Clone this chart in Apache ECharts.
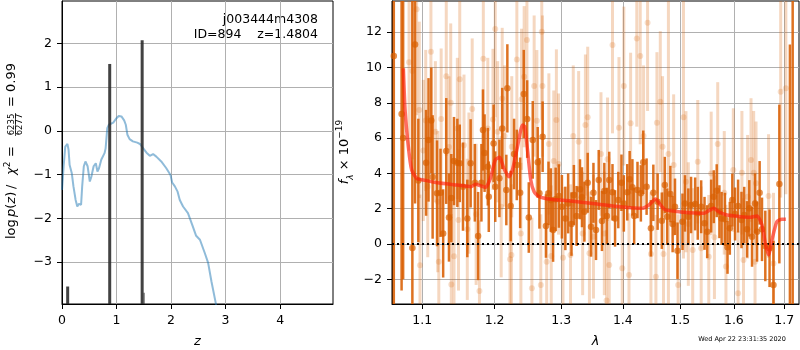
<!DOCTYPE html>
<html>
<head>
<meta charset="utf-8">
<script src="https://cdn.jsdelivr.net/npm/echarts@6/dist/echarts.min.js"></script>
<style>
html, body { margin: 0; padding: 0; background: #fff; }
#main { width: 800px; height: 350px; }
</style>
</head>
<body>
<div id="main"></div>
<script>
// --- left panel: log p(z)
var zCurve = [0, 0.03, 0.06, 0.10, 0.12, 0.14, 0.16, 0.18, 0.21, 0.25, 0.28, 0.31, 0.35, 0.37, 0.40, 0.43, 0.47, 0.51, 0.54, 0.58,
  0.62, 0.65, 0.68, 0.72, 0.78, 0.80, 0.83, 0.86, 0.94, 1.00, 1.04, 1.09, 1.14, 1.17, 1.20, 1.24, 1.30, 1.38, 1.43, 1.49,
  1.55, 1.61, 1.67, 1.73, 1.82, 1.91, 1.99, 2.02, 2.07, 2.12, 2.16, 2.22, 2.31, 2.40, 2.46, 2.53, 2.62, 2.68, 2.74, 2.82, 2.84];
var logpCurve = [-1.35, -0.81, -0.36, -0.30, -0.43, -0.78, -0.81, -0.97, -1.27, -1.58, -1.73, -1.67, -1.69, -1.27, -0.81, -0.70, -0.81, -1.16, -1.04, -0.81,
  -0.74, -0.93, -0.85, -0.66, -0.51, -0.40, 0.06, 0.14, 0.19, 0.29, 0.34, 0.33, 0.24, 0.14, -0.09, -0.19, -0.24, -0.27, -0.30, -0.40,
  -0.50, -0.57, -0.53, -0.59, -0.70, -0.85, -1.01, -1.18, -1.27, -1.39, -1.58, -1.73, -1.88, -2.19, -2.40, -2.49, -2.80, -3.02, -3.44, -3.94, -4.10];
var zPeaks = [0.104, 0.875, 1.47, 1.505];
var logpPeaks = [-3.56, 1.53, 2.07, -3.70];
var zTicks = [0, 1, 2, 3, 4];
var logpTicks = [-3, -2, -1, 0, 1, 2];

// --- right panel: spectrum
var lamDark = [1.063, 1.073, 1.075, 1.087, 1.0905, 1.0948, 1.1051, 1.1083, 1.112, 1.1138,
  1.1197, 1.1244, 1.128, 1.1322, 1.1359, 1.1391, 1.1428, 1.1474, 1.1507, 1.1552,
  1.1612, 1.1659, 1.1718, 1.1764, 1.1811, 1.1833, 1.1856, 1.1902, 1.1916, 1.1985,
  1.2009, 1.2069, 1.211, 1.217, 1.2185, 1.2234, 1.2284, 1.2324, 1.2374, 1.2428,
  1.2479, 1.2503, 1.2563, 1.2638, 1.2664, 1.2713, 1.2764, 1.2803, 1.2839, 1.2874,
  1.2914, 1.2964, 1.3011, 1.3065, 1.3109, 1.3162, 1.32, 1.3243, 1.3297, 1.3329,
  1.3368, 1.3421, 1.3475, 1.3514, 1.3556, 1.36, 1.3653, 1.3692, 1.3734, 1.3773,
  1.3827, 1.387, 1.3924, 1.3977, 1.4017, 1.4075, 1.4115, 1.4162, 1.4192, 1.4249,
  1.4307, 1.4348, 1.4406, 1.4481, 1.4523, 1.4598, 1.4672, 1.4725, 1.4767, 1.4824,
  1.4864, 1.4906, 1.4951, 1.5041, 1.5086, 1.5147, 1.5197, 1.5272, 1.532, 1.5383,
  1.5445, 1.5495, 1.5569, 1.5618, 1.5673, 1.5724, 1.5766, 1.5829, 1.5878, 1.5922,
  1.597, 1.6022, 1.6081, 1.6147, 1.62, 1.6254, 1.6299, 1.6353, 1.6412, 1.6452,
  1.6503, 1.655, 1.6616, 1.6701, 1.678, 1.6899, 1.7115, 1.7172];
var fluxDark = [10.65, 7.37, 6.0, -0.23, 11.3, 3.6, 4.6, 5.9, 7.0, 3.8,
  2.87, 2.9, 0.6, 5.27, 1.5, 2.6, 4.7, 4.6, 4.57, 3.25,
  1.45, 4.57, 3.47, 0.45, 3.47, 6.46, 5.15, 4.38, 2.68, 5.7,
  3.25, 3.72, 6.55, 3.06, 8.82, 2.15, 5.1, 4.48, 2.9, 8.5,
  7.08, 1.5, 5.9, 4.63, 2.87, 6.08, 1.02, 2.87, 2.49, 0.79,
  2.53, 2.72, 2.11, 1.45, 2.3, 1.13, 2.78, 1.59, 3.1, 2.65,
  1.83, 3.47, 0.98, 2.9, 0.79, 3.63, 1.3, 3.0, 1.59, 3.63,
  2.93, 1.45, 2.49, 3.47, 2.3, 2.93, 3.67, 3.21, 1.59, 3.06,
  2.87, 4.63, 3.25, 0.89, 2.9, 2.4, 1.32, 3.34, 1.55, 2.83,
  1.13, 2.11, -0.38, 1.26, 2.3, 1.55, 2.21, 2.27, 1.74, 2.11,
  1.17, 0.7, 2.15, 2.68, 3.02, 1.83, 1.45, 1.4, -0.19, 0.89,
  2.49, 1.7, 2.15, 1.36, 1.64, 0.83, 2.02, 0.41, 2.3, 0.7,
  2.9, 0.83, -0.11, -0.24, -2.32, 3.4, -5.0, 15.0];
var errDark = [20, 10, 8, 14, 9, 3.5, 3, 3.5, 3, 3.5,
  3, 2.5, 2.5, 3, 2.5, 2.5, 2.5, 2.5, 2.2, 2.5,
  2.2, 2.5, 2.2, 2.5, 2.2, 2.3, 2.2, 2.2, 2, 2.2,
  2, 2.2, 2.3, 2, 2.5, 2, 2, 2, 2, 2.5,
  2.2, 2, 2.2, 2, 2, 2, 1.8, 1.8, 1.8, 1.8,
  1.8, 1.8, 1.8, 1.8, 1.7, 1.8, 1.7, 1.7, 1.7, 1.7,
  1.7, 1.7, 1.7, 1.7, 1.7, 1.7, 1.7, 1.6, 1.6, 1.6,
  1.6, 1.6, 1.6, 1.6, 1.6, 1.6, 1.6, 1.6, 1.6, 1.6,
  1.6, 1.8, 1.6, 1.6, 1.6, 1.6, 1.6, 1.6, 1.6, 1.6,
  1.6, 1.6, 1.6, 1.6, 1.6, 1.6, 1.6, 1.5, 1.5, 1.5,
  1.5, 1.5, 1.5, 1.5, 1.5, 1.5, 1.5, 1.5, 1.5, 1.5,
  1.5, 1.5, 1.5, 1.6, 1.6, 1.6, 1.6, 1.7, 1.7, 1.7,
  1.8, 1.8, 2, 2.2, 2.5, 4.5, 16.3, 25];

var lamLight = [1.0827, 1.087, 1.0926, 1.0961, 1.097, 1.1014, 1.1046, 1.1073, 1.1115, 1.1175,
  1.1207, 1.1221, 1.1253, 1.1322, 1.1359, 1.1383, 1.1391, 1.1428, 1.1474, 1.149,
  1.1507, 1.1566, 1.1612, 1.1635, 1.1681, 1.1736, 1.1783, 1.1838, 1.1902, 1.1976,
  1.2009, 1.2044, 1.2095, 1.211, 1.2144, 1.2224, 1.2245, 1.225, 1.2325, 1.2385,
  1.2395, 1.2434, 1.2475, 1.255, 1.2584, 1.2625, 1.2685, 1.27, 1.271, 1.2775,
  1.2809, 1.2845, 1.2884, 1.2925, 1.2959, 1.3028, 1.3146, 1.319, 1.3276, 1.334,
  1.3384, 1.3421, 1.3449, 1.3514, 1.3637, 1.3692, 1.3745, 1.3773, 1.3729, 1.3827,
  1.3935, 1.399, 1.4017, 1.4104, 1.4132, 1.4237, 1.4296, 1.4354, 1.4423, 1.4481,
  1.4568, 1.4586, 1.4645, 1.4685, 1.4702, 1.4789, 1.4882, 1.4963, 1.5059, 1.5104,
  1.5147, 1.5227, 1.532, 1.5383, 1.5524, 1.5569, 1.563, 1.5692, 1.5816, 1.5848,
  1.5989, 1.6081, 1.6155, 1.6186, 1.6266, 1.6333, 1.6385, 1.6412, 1.6432, 1.6681,
  1.678, 1.6926, 1.7032];
var fluxLight = [10.3, 9.8, 13.3, 7.6, -1.2, 5.3, 7.0, 3.25, 10.9, 6.36,
  2.4, -1.0, 7.08, 9.5, 5.5, 8.0, -2.3, -0.7, 6.55, 1.36,
  9.33, 5.6, 0.83, 3.45, 7.65, 1.68, -2.66, 10.5, 6.55, 7.06,
  12.18, 6.36, 2.11, 8.25, 6.12, -0.87, -0.62, 5.51, 10.46, 0.6,
  8.2, 9.48, 11.56, -2.51, 8.95, 6.99, -2.32, 12.03, 8.95, -1.0,
  5.67, -0.68, 4.7, 7.03, 4.53, -0.78, -0.62, 6.12, 5.8, 0.6,
  6.74, 7.18, -0.53, 0.41, 5.1, 0.6, 4.8, -1.19, -3.2, 11.27,
  6.59, -1.38, 8.95, -1.76, 6.84, 11.65, 10.65, 6.12, 12.54, -0.57,
  -1.85, 6.87, 8.06, 5.51, -0.57, 5.1, 4.48, -2.32, 7.18, 3.53,
  1.13, -0.34, 4.66, -0.24, -0.72, 4.0, 0.38, 5.67, 2.9, -1.28,
  4.19, -2.79, 4.04, -0.91, 2.68, 4.76, 4.04, -1.0, 3.44, 2.72,
  -1.1, 8.63, 8.82];
var errLight = [5, 5, 6, 5, 4, 4, 4, 4, 5, 4,
  4, 4, 4, 4.5, 4, 4.5, 4, 4, 4, 4,
  4.5, 4, 4, 4, 4, 4, 4, 4.5, 4, 4,
  5, 4, 4, 4, 4, 4, 4, 4, 4.5, 4,
  4, 4, 4.5, 4, 4, 4, 4, 5, 4, 4,
  4, 4, 4, 4, 4, 4, 4, 4, 4, 3.5,
  4, 4, 3.5, 3.5, 3.5, 3.5, 3.5, 3.5, 4, 5,
  4, 3.5, 4.5, 3.5, 4, 5, 5, 4, 5, 3.5,
  3.5, 4, 4, 4, 3.5, 9, 4, 4, 8, 4,
  3.5, 3.5, 3.5, 3.5, 3.5, 3.5, 3.5, 3.5, 3.5, 3.5,
  3.5, 3.5, 3.5, 3.5, 3.5, 3.5, 3.5, 3.5, 3.5, 3.5,
  4, 6, 6];

var lamModel = [1.0753, 1.0775, 1.0818, 1.0861, 1.0926, 1.1018, 1.1203, 1.1479, 1.1663, 1.1732,
  1.1778, 1.187, 1.1939, 1.2009, 1.2073, 1.2133, 1.2208, 1.2259, 1.2334, 1.2409,
  1.2443, 1.2484, 1.2533, 1.2583, 1.2658, 1.2834, 1.3146, 1.3578, 1.3956, 1.4331,
  1.4446, 1.4562, 1.4649, 1.4736, 1.5061, 1.5433, 1.5526, 1.5618, 1.5711, 1.5867,
  1.6121, 1.6319, 1.6452, 1.655, 1.6616, 1.6681, 1.6749, 1.6848, 1.6948, 1.7032];
var fluxModel = [9.95, 7.6, 5.5, 4.19, 3.72, 3.63, 3.47, 3.34, 3.25, 3.38,
  3.33, 3.21, 3.72, 4.76, 4.91, 4.29, 3.81, 4.19, 5.51, 6.74,
  6.65, 5.33, 3.63, 2.96, 2.68, 2.53, 2.44, 2.27, 2.11, 2.02,
  2.21, 2.55, 2.21, 1.93, 1.8, 1.74, 1.89, 2.02, 1.83, 1.64,
  1.55, 1.51, 1.59, 1.08, 0.04, -0.62, 0.23, 1.26, 1.4, 1.4];
var lamTicks = [1.1, 1.2, 1.3, 1.4, 1.5, 1.6, 1.7];
var fluxTicks = [-2, 0, 2, 4, 6, 8, 10, 12];

var FONT = 'DejaVu Sans';
var ORANGE = 'rgba(217,95,2,0.88)';
var ORANGE_LIGHT = 'rgba(217,95,2,0.25)';
var PZ_MIN = -3.96;

function minus(v) { return String(v).replace('-', '\u2212'); }

function axisCommon(ticks, fmt) {
  return {
    axisLine: { show: true, onZero: false, lineStyle: { color: '#000', width: 1 } },
    axisTick: { show: true, length: 5, customValues: ticks, lineStyle: { color: '#000', width: 1 } },
    axisLabel: { customValues: ticks, color: '#000', fontFamily: FONT, fontSize: 12.5, margin: 10, formatter: fmt },
    splitLine: { show: true, lineStyle: { color: '#b0b0b0', width: 1 } }
  };
}

function errorBars(lam, flux, err, color, width, z) {
  return {
    type: 'custom', xAxisIndex: 1, yAxisIndex: 1, clip: true, silent: true, z: z,
    data: lam.map(function (l, i) { return [Math.log(l), flux[i] - err[i], flux[i] + err[i]]; }),
    encode: { x: 0, y: [1, 2] },
    renderItem: function (params, api) {
      var lo = api.coord([api.value(0), api.value(1)]);
      var hi = api.coord([api.value(0), api.value(2)]);
      return { type: 'line', shape: { x1: lo[0], y1: lo[1], x2: hi[0], y2: hi[1] },
        style: { stroke: color, lineWidth: width } };
    }
  };
}

var chart = echarts.init(document.getElementById('main'), null, { renderer: 'canvas' });

var option = {
  animation: false,
  backgroundColor: '#fff',
  grid: [
    { left: 62, top: 1, width: 271, height: 303, outerBoundsMode: 'none', containLabel: false,
      show: true, borderColor: '#000', borderWidth: 1, backgroundColor: 'transparent' },
    { left: 392, top: 1, width: 407, height: 303, outerBoundsMode: 'none', containLabel: false,
      show: true, borderColor: '#000', borderWidth: 1, backgroundColor: 'transparent' }
  ],
  xAxis: [
    Object.assign({ type: 'value', gridIndex: 0, min: 0, max: 4.97,
      name: 'z', nameLocation: 'middle', nameGap: 31,
      nameTextStyle: { fontFamily: FONT, fontSize: 13, fontStyle: 'italic', color: '#000' } },
      axisCommon(zTicks, function (v) { return minus(v); })),
    Object.assign({ type: 'value', gridIndex: 1, min: Math.log(1.0607), max: Math.log(1.7303),
      name: '\u03bb', nameLocation: 'middle', nameGap: 31,
      nameTextStyle: { fontFamily: FONT, fontSize: 13, fontStyle: 'italic', color: '#000' } },
      axisCommon(lamTicks.map(Math.log), function (v) { return Math.exp(v).toFixed(1); }))
  ],
  yAxis: [
    Object.assign({ type: 'value', gridIndex: 0, min: PZ_MIN, max: 2.97 },
      axisCommon(logpTicks, function (v) { return minus(v); })),
    Object.assign({ type: 'value', gridIndex: 1, min: -3.4, max: 13.77 },
      axisCommon(fluxTicks, function (v) { return minus(v); }))
  ],
  series: [
    {
      type: 'line', xAxisIndex: 0, yAxisIndex: 0, showSymbol: false, clip: true, z: 2,
      data: zCurve.map(function (z, i) { return [z, logpCurve[i]]; }),
      lineStyle: { color: 'rgba(31,119,180,0.5)', width: 2 }
    },
    {
      type: 'custom', xAxisIndex: 0, yAxisIndex: 0, clip: true, z: 3, silent: true,
      data: zPeaks.map(function (z, i) { return [z, logpPeaks[i]]; }),
      renderItem: function (params, api) {
        var top = api.coord([api.value(0), api.value(1)]);
        var bot = api.coord([api.value(0), PZ_MIN]);
        var w = params.dataIndex === 3 ? 1 : 3;
        return { type: 'rect', shape: { x: top[0] - w / 2, y: top[1], width: w, height: bot[1] - top[1] },
          style: { fill: 'rgba(40,40,40,0.88)' } };
      }
    },
    errorBars(lamLight, fluxLight, errLight, ORANGE_LIGHT, 3, 2),
    {
      type: 'scatter', xAxisIndex: 1, yAxisIndex: 1, symbolSize: 6, z: 3, silent: true,
      data: lamLight.map(function (l, i) { return [Math.log(l), fluxLight[i]]; }),
      itemStyle: { color: ORANGE_LIGHT }
    },
    errorBars(lamDark, fluxDark, errDark, ORANGE, 2.5, 4),
    {
      type: 'scatter', xAxisIndex: 1, yAxisIndex: 1, symbolSize: 6.5, z: 5, silent: true,
      data: lamDark.map(function (l, i) { return [Math.log(l), fluxDark[i]]; }),
      itemStyle: { color: ORANGE }
    },
    {
      type: 'line', xAxisIndex: 1, yAxisIndex: 1, showSymbol: false, z: 6, smooth: 0.2,
      data: lamModel.map(function (l, i) { return [Math.log(l), fluxModel[i]]; }),
      lineStyle: { color: 'rgba(255,30,10,0.65)', width: 3.5 },
      markLine: {
        silent: true, symbol: 'none', label: { show: false },
        lineStyle: { color: '#000', type: [2, 3], width: 2 },
        data: [{ yAxis: 0 }]
      }
    }
  ],
  graphic: [
    {
      type: 'text', right: 800 - 318, top: 13,
      style: { text: 'j003444m4308', fontFamily: FONT, fontSize: 12.5, fill: '#000', align: 'right' }
    },
    {
      type: 'text', right: 800 - 318, top: 28,
      style: { text: 'ID=894    z=1.4804', fontFamily: FONT, fontSize: 12.5, fill: '#000', align: 'right' }
    },
    {
      // rotated y label of the left panel, pieces laid out along the reading direction
      type: 'group', x: 12, y: 153, rotation: Math.PI / 2,
      children: [
        { type: 'text', x: -86, y: 0, style: { text: 'log', fontFamily: FONT, fontSize: 13, fill: '#000', align: 'left', verticalAlign: 'middle' } },
        {
          type: 'text', x: -64, y: 0,
          style: {
            text: '{i|p}{a|(}{i|z}{a|)}', align: 'left', verticalAlign: 'middle',
            rich: {
              a: { fontFamily: FONT, fontSize: 13, fill: '#000' },
              i: { fontFamily: FONT, fontSize: 13, fontStyle: 'italic', fill: '#000' }
            }
          }
        },
        { type: 'text', x: -36, y: 0, style: { text: '/', fontFamily: FONT, fontSize: 13, fill: '#000', align: 'left', verticalAlign: 'middle' } },
        {
          type: 'text', x: -22, y: 0,
          style: {
            text: '{i|\u03c7}{s|2}', align: 'left', verticalAlign: 'middle',
            rich: {
              i: { fontFamily: FONT, fontSize: 13, fontStyle: 'italic', fill: '#000', lineHeight: 18 },
              s: { fontFamily: FONT, fontSize: 9, verticalAlign: 'top', fill: '#000', lineHeight: 18 }
            }
          }
        },
        { type: 'text', x: -4, y: 0, style: { text: '=', fontFamily: FONT, fontSize: 13, fill: '#000', align: 'left', verticalAlign: 'middle' } },
        { type: 'text', x: 28.5, y: -0.5, style: { text: '6235', fontFamily: FONT, fontSize: 8.5, fill: '#000', align: 'center', verticalAlign: 'middle' } },
        { type: 'line', shape: { x1: 17, y1: 3.5, x2: 40, y2: 3.5 }, style: { stroke: '#000', lineWidth: 0.7 } },
        { type: 'text', x: 28.5, y: 8, style: { text: '6277', fontFamily: FONT, fontSize: 8.5, fill: '#000', align: 'center', verticalAlign: 'middle' } },
        { type: 'text', x: 46, y: 0, style: { text: '= 0.99', fontFamily: FONT, fontSize: 13, fill: '#000', align: 'left', verticalAlign: 'middle' } }
      ]
    },
    {
      type: 'group', x: 345, y: 152, rotation: Math.PI / 2,
      children: [
        {
          type: 'text', x: 0, y: 0,
          style: {
            text: '{i|f}{sub|\u03bb}{a| \u00d7 10}{sup|\u221219}',
            align: 'center', verticalAlign: 'middle', fill: '#000',
            rich: {
              i: { fontFamily: FONT, fontSize: 13, fontStyle: 'italic', fill: '#000', lineHeight: 20 },
              sub: { fontFamily: FONT, fontSize: 9, fontStyle: 'italic', verticalAlign: 'bottom', fill: '#000', lineHeight: 20 },
              a: { fontFamily: FONT, fontSize: 13, fill: '#000', lineHeight: 20 },
              sup: { fontFamily: FONT, fontSize: 9, verticalAlign: 'top', fill: '#000', lineHeight: 20 }
            }
          }
        }
      ]
    },
    {
      type: 'text', x: 742, y: 339,
      style: { text: 'Wed Apr 22 23:31:35 2020', fontFamily: FONT, fontSize: 6.5, fill: '#000', align: 'center', verticalAlign: 'middle' }
    }
  ]
};

chart.setOption(option);
</script>
</body>
</html>
